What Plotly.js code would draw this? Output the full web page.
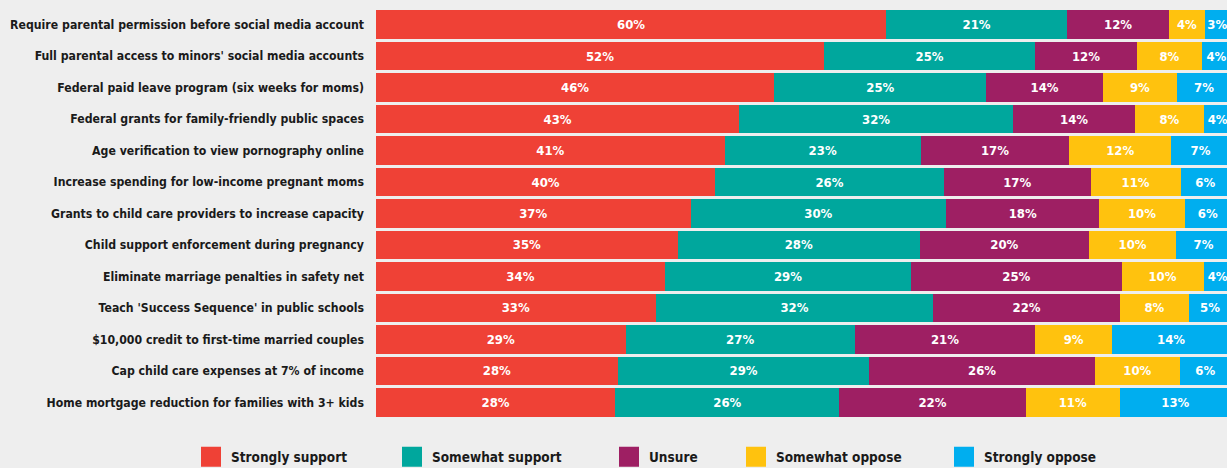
<!DOCTYPE html>
<html>
<head>
<meta charset="utf-8">
<script src="https://cdn.plot.ly/plotly-3.0.1.min.js"></script>
<style>
html,body{margin:0;padding:0;background:#eeeeee;}
#chart{width:1227px;height:468px;}
#chart text{font-stretch:condensed;}
#chart .legendpoints path{d:path('M10,10H-10V-10H10Z');}
</style>
</head>
<body>
<div id="chart"></div>
<script>
const categories = [
  "Require parental permission before social media account",
  "Full parental access to minors' social media accounts",
  "Federal paid leave program (six weeks for moms)",
  "Federal grants for family-friendly public spaces",
  "Age verification to view pornography online",
  "Increase spending for low-income pregnant moms",
  "Grants to child care providers to increase capacity",
  "Child support enforcement during pregnancy",
  "Eliminate marriage penalties in safety net",
  "Teach 'Success Sequence' in public schools",
  "$10,000 credit to first-time married couples",
  "Cap child care expenses at 7% of income",
  "Home mortgage reduction for families with 3+ kids"
];
const seriesNames = ["Strongly support", "Somewhat support", "Unsure", "Somewhat oppose", "Strongly oppose"];

// Segment shares as drawn
const stronglySupport = [59.7, 52.4, 46.6, 42.5, 40.8, 39.7, 36.8, 35.3, 33.8, 32.7, 29.2, 28.3, 28.0];
const somewhatSupport = [21.1, 24.7, 24.8, 32.0, 22.9, 26.7, 29.9, 28.3, 28.8, 32.5, 26.8, 29.4, 26.2];
const unsure          = [12.0, 11.9, 13.6, 14.3, 17.4, 17.2, 17.9, 19.8, 24.6, 21.8, 21.1, 26.4, 21.8];
const somewhatOppose  = [4.1, 7.6, 8.7, 8.0, 11.9, 10.5, 10.0, 10.2, 9.6, 8.1, 9.0, 9.9, 11.0];
const stronglyOppose  = [3.0, 3.4, 6.3, 3.3, 6.9, 5.8, 5.4, 6.4, 3.3, 4.9, 13.8, 6.0, 13.0];

// Percentages as printed on the bars
const stronglySupportLabels = [60, 52, 46, 43, 41, 40, 37, 35, 34, 33, 29, 28, 28];
const somewhatSupportLabels = [21, 25, 25, 32, 23, 26, 30, 28, 29, 32, 27, 29, 26];
const unsureLabels          = [12, 12, 14, 14, 17, 17, 18, 20, 25, 22, 21, 26, 22];
const somewhatOpposeLabels  = [4, 8, 9, 8, 12, 11, 10, 10, 10, 8, 9, 10, 11];
const stronglyOpposeLabels  = [3, 4, 7, 4, 7, 6, 6, 7, 4, 5, 14, 6, 13];

const seriesValues = [stronglySupport, somewhatSupport, unsure, somewhatOppose, stronglyOppose];
const seriesLabels = [stronglySupportLabels, somewhatSupportLabels, unsureLabels, somewhatOpposeLabels, stronglyOpposeLabels];
const colors = ["#EF4136", "#00A79D", "#9E1F63", "#FFC20E", "#00AEEF"];

const FONT = "'DejaVu Sans Condensed', 'DejaVu Sans', sans-serif";
const legendIds = ['legend', 'legend2', 'legend3', 'legend4', 'legend5'];
const legendLeftPx = [191, 392, 609, 736, 944];
const PLOT_LEFT = 376, PLOT_W = 851;

const traces = seriesNames.map((name, i) => ({
  type: 'bar',
  orientation: 'h',
  name: name,
  legend: legendIds[i],
  y: categories,
  x: seriesValues[i],
  text: seriesLabels[i].map(v => v + '%'),
  texttemplate: '%{text}',
  textposition: 'inside',
  insidetextanchor: 'middle',
  textangle: 0,
  textfont: {family: FONT, size: 13, color: '#ffffff', weight: 'bold'},
  marker: {color: colors[i], line: {width: 0}},
  hoverinfo: 'skip'
}));

const layout = {
  width: 1227,
  height: 468,
  paper_bgcolor: '#eeeeee',
  plot_bgcolor: '#eeeeee',
  barmode: 'stack',
  bargap: 0.095,
  margin: {l: PLOT_LEFT, r: 0, t: 8.5, b: 49.5, autoexpand: false},
  font: {family: FONT, color: '#1a1a1a'},
  uniformtext: {mode: 'show', minsize: 13},
  xaxis: {range: [0, 99.53], visible: false, fixedrange: true},
  yaxis: {
    autorange: 'reversed',
    ticks: '',
    showgrid: false,
    zeroline: false,
    showline: false,
    ticklabelstandoff: 11,
    tickfont: {family: FONT, size: 12.2, color: '#1a1a1a', weight: 'bold'}
  },
  showlegend: true
};

legendIds.forEach((id, i) => {
  layout[id] = {
    orientation: 'h',
    x: (legendLeftPx[i] - PLOT_LEFT) / PLOT_W,
    xanchor: 'left',
    y: -0.095,
    yanchor: 'middle',
    bgcolor: 'rgba(0,0,0,0)',
    font: {family: FONT, size: 13.5, color: '#1a1a1a', weight: 'bold'},
    itemclick: false,
    itemdoubleclick: false
  };
});

Plotly.newPlot('chart', traces, layout, {displayModeBar: false, staticPlot: true});
</script>
</body>
</html>
